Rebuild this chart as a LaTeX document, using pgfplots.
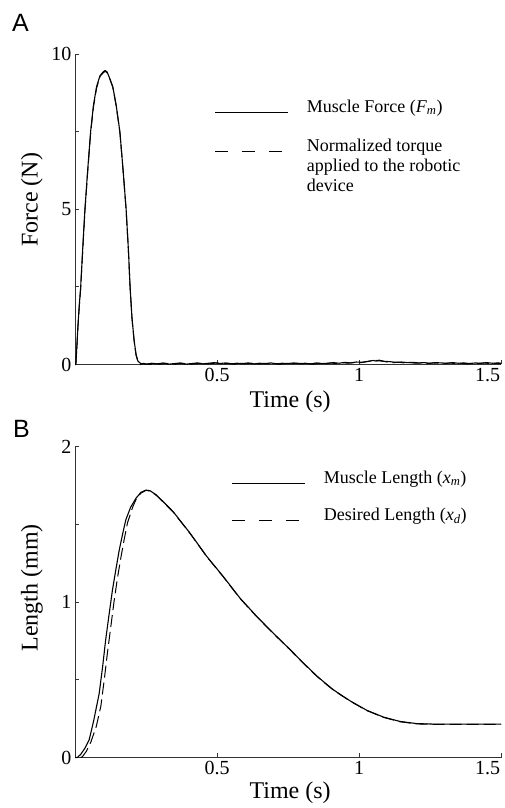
\documentclass[border=0pt]{standalone}
\usepackage{fontspec}
\setmainfont{Liberation Serif}
\newfontfamily\panelfont{Liberation Sans}
\usepackage{pgfplots}
\pgfplotsset{compat=1.18}

\pgfplotstableread{
t F
0 0
0.003 0
0.006 0.5
0.010 1.2
0.015 1.9
0.020 2.5
0.027 3.7
0.035 5.0
0.045 6.3
0.055 7.5
0.065 8.35
0.076 8.95
0.088 9.3
0.100 9.43
0.106 9.47
0.113 9.42
0.123 9.2
0.133 8.95
0.145 8.35
0.158 7.5
0.169 6.3
0.180 5.0
0.188 3.7
0.194 2.5
0.2007 1.5
0.208 0.79
0.215 0.32
0.222 0.1
0.232 0.03
0.25 0.01
0.27 0.04
0.29 0.02
0.31 0.05
0.33 0.01
0.35 0.03
0.37 0.05
0.39 0.01
0.41 0.03
0.43 0.05
0.45 0.02
0.47 0.04
0.49 0.06
0.51 0.03
0.53 0.05
0.55 0.02
0.57 0.04
0.59 0.03
0.61 0.05
0.63 0.02
0.65 0.04
0.67 0.03
0.69 0.05
0.71 0.02
0.73 0.04
0.75 0.03
0.77 0.05
0.79 0.03
0.81 0.04
0.83 0.02
0.85 0.05
0.87 0.03
0.89 0.04
0.91 0.06
0.93 0.04
0.95 0.07
0.97 0.05
0.99 0.08
1.01 0.07
1.03 0.10
1.05 0.13
1.06 0.11
1.07 0.14
1.09 0.10
1.11 0.09
1.13 0.07
1.15 0.08
1.17 0.06
1.19 0.07
1.21 0.05
1.23 0.06
1.25 0.04
1.27 0.06
1.29 0.05
1.31 0.04
1.33 0.06
1.35 0.04
1.37 0.05
1.39 0.03
1.41 0.05
1.43 0.04
1.45 0.06
1.47 0.04
1.49 0.05
1.50 0.04
}\forcetab

\pgfplotstableread{
t F
0 0
0.003 0
0.006 0.45
0.010 1.15
0.015 1.85
0.020 2.45
0.027 3.65
0.035 4.95
0.045 6.25
0.055 7.45
0.065 8.3
0.076 8.9
0.088 9.28
0.100 9.4
0.106 9.44
0.113 9.4
0.123 9.18
0.133 8.93
0.145 8.33
0.158 7.48
0.169 6.28
0.180 4.98
0.188 3.68
0.194 2.48
0.2007 1.48
0.208 0.77
0.215 0.3
0.222 0.08
0.232 0.0
0.24 0.04
0.26 0.00
0.28 0.03
0.30 0.01
0.32 0.04
0.34 0.00
0.36 0.02
0.38 0.04
0.40 0.00
0.42 0.02
0.44 0.04
0.46 0.01
0.48 0.03
0.50 0.05
0.52 0.02
0.54 0.04
0.56 0.01
0.58 0.03
0.60 0.02
0.62 0.04
0.64 0.01
0.66 0.03
0.68 0.02
0.70 0.04
0.72 0.01
0.74 0.03
0.76 0.02
0.78 0.04
0.80 0.02
0.82 0.03
0.84 0.01
0.86 0.04
0.88 0.02
0.90 0.05
0.92 0.03
0.94 0.06
0.96 0.04
0.98 0.06
1.00 0.05
1.02 0.08
1.04 0.11
1.055 0.15
1.065 0.12
1.08 0.11
1.10 0.08
1.12 0.06
1.14 0.07
1.16 0.05
1.18 0.06
1.20 0.04
1.22 0.05
1.24 0.03
1.26 0.05
1.28 0.04
1.30 0.03
1.32 0.05
1.34 0.03
1.36 0.04
1.38 0.02
1.40 0.04
1.42 0.03
1.44 0.05
1.46 0.03
1.48 0.04
1.50 0.03
}\torquetab

\pgfplotstableread{
t L
0 0
0.008 0
0.02 0.02
0.035 0.06
0.05 0.114
0.065 0.23
0.085 0.41
0.097 0.58
0.108 0.757
0.120 0.92
0.132 1.078
0.144 1.21
0.156 1.336
0.168 1.44
0.179 1.529
0.196 1.61
0.215 1.668
0.232 1.705
0.250 1.72
0.265 1.715
0.285 1.69
0.305 1.655
0.327 1.615
0.346 1.58
0.405 1.443
0.464 1.293
0.522 1.164
0.581 1.025
0.640 0.907
0.698 0.80
0.757 0.695
0.80 0.615
0.851 0.525
0.88 0.48
0.91 0.435
0.968 0.365
1.027 0.304
1.086 0.26
1.144 0.232
1.203 0.218
1.26 0.215
1.35 0.215
1.50 0.215
}\lengthtab

\pgfplotstableread{
t L
0.02 0
0.026 0.005
0.04 0.04
0.056 0.10
0.075 0.2
0.091 0.33
0.103 0.50
0.114 0.67
0.126 0.84
0.138 1.01
0.150 1.16
0.162 1.29
0.174 1.41
0.185 1.51
0.203 1.61
0.215 1.66
0.232 1.70
0.250 1.718
0.265 1.713
0.285 1.688
0.305 1.653
0.327 1.613
0.346 1.578
0.405 1.441
0.464 1.291
0.522 1.162
0.581 1.023
0.640 0.905
0.698 0.798
0.757 0.693
0.80 0.613
0.851 0.523
0.88 0.478
0.91 0.433
0.968 0.363
1.027 0.302
1.086 0.258
1.144 0.23
1.203 0.216
1.26 0.213
1.35 0.213
1.50 0.213
}\desiredtab

\pgfplotsset{
  myax/.style={
    scale only axis, width=426pt,
    axis x line=bottom, axis y line=left,
    axis line style={-, line width=0.8pt, black!80},
    xmin=0, xmax=1.5,
    xtick={0.5,1,1.5}, xticklabels={0.5,1,\makebox[0pt][r]{1.5}\kern2pt},
    tick align=inside, major tick length=4pt,
    tick style={line width=0.8pt, black!80},
    ticklabel style={font=\fontsize{20}{24}\selectfont},
    /pgf/number format/assume math mode=true,
    label style={font=\fontsize{24}{28}\selectfont},
    clip=false,
    legend cell align=left,
    legend style={draw=none, fill=none, inner sep=0pt, outer sep=0pt,
      font=\fontsize{18}{20}\selectfont, row sep=23.5pt, column sep=18pt,
      nodes={inner sep=0pt, anchor=base west}},
  },
  solidln/.style={black, line width=1.1pt, line join=round,
    legend image code/.code={\draw[black, line width=0.9pt] (0pt,0pt) -- (73pt,0pt);}},
  dashln/.style={black, line width=1.0pt, dash pattern=on 12pt off 5pt,
    legend image code/.code={\draw[black, line width=0.9pt, dash pattern=on 13pt off 14pt] (0pt,0pt) -- (67pt,0pt);}},
}

\begin{document}
\begin{tikzpicture}[x=1pt,y=1pt]
\path[use as bounding box] (0,0) rectangle (504,808);
\node[anchor=base west, inner sep=0pt, font=\panelfont\fontsize{25}{28}\selectfont] at (12,776) {A};
\node[anchor=base west, inner sep=0pt, font=\panelfont\fontsize{25}{28}\selectfont] at (13,370) {B};

\begin{axis}[myax,
  at={(75pt,443.5pt)}, anchor=origin,
  height=310.5pt,
  ymin=0, ymax=10,
  ytick={0,2.5,5,7.5,10}, yticklabels={0,,5,,10},
  xlabel={Time (s)}, ylabel={Force (N)},
  xlabel style={at={(axis description cs:0.505,-0.119)}, anchor=center},
  ylabel style={at={(axis description cs:-0.101,0.53)}, anchor=center, rotate=0},
  legend style={at={(axis description cs:0.3286,0.853)}, anchor=north west},
]
\addplot[solidln] table[x=t,y=F] {\forcetab};
\addplot[dashln] table[x=t,y=F] {\torquetab};
\legend{Muscle Force (\textit{F}\textsubscript{\textit{m}}),
  {\begin{tabular}[t]{@{}l@{}}Normalized torque\\applied to the robotic\\device\end{tabular}}}
\end{axis}

\begin{axis}[myax,
  at={(75pt,50.5pt)}, anchor=origin,
  height=311pt,
  ymin=0, ymax=2,
  ytick={0,0.5,1,1.5,2}, yticklabels={0,,1,,2},
  xlabel={Time (s)}, ylabel={Length (mm)},
  xlabel style={at={(axis description cs:0.505,-0.114)}, anchor=center},
  ylabel style={at={(axis description cs:-0.101,0.545)}, anchor=center, rotate=0},
  legend style={at={(axis description cs:0.3685,0.922)}, anchor=north west},
]
\addplot[solidln] table[x=t,y=L] {\lengthtab};
\addplot[dashln] table[x=t,y=L] {\desiredtab};
\legend{Muscle Length (\textit{x}\textsubscript{\textit{m}}),
  Desired Length (\textit{x}\textsubscript{\textit{d}})}
\end{axis}
\end{tikzpicture}
\end{document}
